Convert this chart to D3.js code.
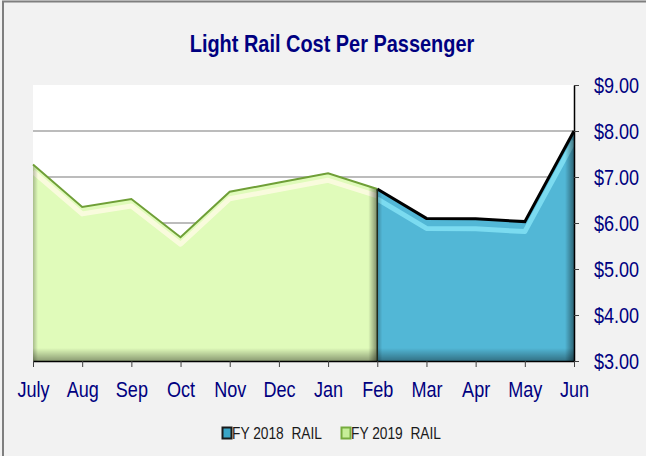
<!DOCTYPE html>
<html>
<head>
<meta charset="utf-8">
<script src="https://cdn.jsdelivr.net/npm/d3@7"></script>
<style>
    body { margin: 0; background: #f2f2f2; }
    svg text { font-family: 'Liberation Sans', Arial, sans-serif; }
</style>
</head>
<body>
<div id="chart"></div>
<script>
const months = ['July', 'Aug', 'Sep', 'Oct', 'Nov', 'Dec', 'Jan', 'Feb', 'Mar', 'Apr', 'May', 'Jun'];
const fy2019Rail = [7.27, 6.35, 6.52, 5.69, 6.68, 6.88, 7.08, 6.74, null, null, null, null];
const fy2018Rail = [null, null, null, null, null, null, null, 6.74, 6.10, 6.09, 6.03, 8.00];
const yTicks = [3, 4, 5, 6, 7, 8, 9];
const gridValues = [4, 5, 6, 7, 8];
const seriesNames = ['FY 2018  RAIL', 'FY 2019  RAIL'];

const width = 646, height = 456;
const plot = { left: 33, right: 574, top: 85, bottom: 361 };

const svg = d3.select('#chart').append('svg')
    .attr('width', width)
    .attr('height', height);

const defs = svg.append('defs');

const x = d3.scalePoint().domain(months).range([plot.left, plot.right]);
const y = d3.scaleLinear().domain([3, 9]).range([plot.bottom, plot.top]);

// the original uses a narrow font, squeeze the text horizontally
function narrow(selection, factor) {
    selection.each(function () {
        const len = this.getComputedTextLength();
        d3.select(this)
            .attr('textLength', len * factor)
            .attr('lengthAdjust', 'spacingAndGlyphs');
    });
}

// outer frame (only top and left edge visible in the picture)
svg.append('rect')
    .attr('x', 3).attr('y', 1.5)
    .attr('width', width + 10).attr('height', height + 10)
    .attr('fill', '#f2f2f2')
    .attr('stroke', '#7f7f7f')
    .attr('stroke-width', 2);

// title
svg.append('text')
    .attr('x', 332)
    .attr('y', 52)
    .attr('text-anchor', 'middle')
    .attr('font-size', 24)
    .attr('font-weight', 'bold')
    .attr('fill', '#000080')
    .text('Light Rail Cost Per Passenger')
    .call(narrow, 0.83);

// plot background
svg.append('rect')
    .attr('x', plot.left).attr('y', plot.top)
    .attr('width', plot.right - plot.left).attr('height', plot.bottom - plot.top)
    .attr('fill', '#ffffff');

// gridlines
svg.append('g')
    .selectAll('line')
    .data(gridValues)
    .join('line')
    .attr('x1', plot.left).attr('x2', plot.right)
    .attr('y1', d => y(d)).attr('y2', d => y(d))
    .attr('stroke', '#a6a6a6')
    .attr('stroke-width', 1.5);

function makeGradient(id, x1, y1, x2, y2, stops) {
    const g = defs.append('linearGradient')
        .attr('id', id)
        .attr('x1', x1).attr('y1', y1).attr('x2', x2).attr('y2', y2);
    stops.forEach(s => g.append('stop')
        .attr('offset', s[0])
        .attr('stop-color', s[1])
        .attr('stop-opacity', s[2]));
}

makeGradient('shadeDown', 0, 0, 0, 1, [[0, '#000', 0], [1, '#000', 0.38]]);
makeGradient('shadeRight', 0, 0, 1, 0, [[0, '#000', 0], [1, '#000', 0.45]]);
makeGradient('shadeLeft', 0, 0, 1, 0, [[0, '#000', 0.25], [1, '#000', 0]]);

// Draw a bevelled area for one series
function createArea(values, opts) {
    const pts = months.map((m, i) => ({ m: m, v: values[i] })).filter(d => d.v !== null);
    const x0 = x(pts[0].m), x1 = x(pts[pts.length - 1].m);

    const area = d3.area()
        .x(d => x(d.m))
        .y0(plot.bottom)
        .y1(d => y(d.v));
    const line = d3.line()
        .x(d => x(d.m))
        .y(d => y(d.v));

    defs.append('clipPath').attr('id', opts.id + '-clip')
        .append('path').attr('d', area(pts));

    const g = svg.append('g');
    const inner = g.append('g').attr('clip-path', `url(#${opts.id}-clip)`);

    inner.append('path')
        .attr('d', area(pts))
        .attr('fill', opts.fill);

    // soft highlight under the top edge
    inner.append('path')
        .attr('d', line(pts))
        .attr('transform', `translate(0, ${opts.glowOffset})`)
        .attr('fill', 'none')
        .attr('stroke', opts.glow)
        .attr('stroke-width', opts.glowWidth)
        .attr('stroke-linejoin', 'round')
        .attr('opacity', 0.8);

    // shaded edges
    inner.append('rect')
        .attr('x', x0).attr('y', plot.bottom - 13)
        .attr('width', x1 - x0).attr('height', 13)
        .attr('fill', 'url(#shadeDown)');
    inner.append('rect')
        .attr('x', x1 - 9).attr('y', plot.top)
        .attr('width', 9).attr('height', plot.bottom - plot.top)
        .attr('fill', 'url(#shadeRight)');
    inner.append('rect')
        .attr('x', x0).attr('y', plot.top)
        .attr('width', 5).attr('height', plot.bottom - plot.top)
        .attr('fill', 'url(#shadeLeft)');

    // top edge
    g.append('path')
        .attr('d', line(pts))
        .attr('fill', 'none')
        .attr('stroke', opts.edge)
        .attr('stroke-width', opts.edgeWidth)
        .attr('stroke-linejoin', 'miter');

    if (opts.leftEdge) {
        g.append('line')
            .attr('x1', x0).attr('x2', x0)
            .attr('y1', y(pts[0].v)).attr('y2', plot.bottom)
            .attr('stroke', opts.leftEdge)
            .attr('stroke-width', 1.5);
    }
}

createArea(fy2019Rail, {
    id: 'fy2019',
    fill: '#e0fbba',
    glow: '#fffbe6',
    glowOffset: 7,
    glowWidth: 5,
    edge: '#6f9f37',
    edgeWidth: 2
});

createArea(fy2018Rail, {
    id: 'fy2018',
    fill: '#52b7d6',
    glow: '#86e4f6',
    glowOffset: 10,
    glowWidth: 5,
    edge: '#000000',
    edgeWidth: 3,
    leftEdge: '#1e2a1e'
});

// x axis
const xAxis = svg.append('g')
    .attr('transform', `translate(0, ${plot.bottom})`)
    .call(d3.axisBottom(x).tickSize(6).tickPadding(14).tickSizeOuter(0));
xAxis.select('.domain').attr('stroke', '#000').attr('stroke-width', 1.5);
xAxis.selectAll('.tick line').attr('stroke', '#404040');
xAxis.selectAll('text')
    .attr('font-size', 22)
    .attr('fill', '#000080')
    .call(narrow, 0.82);

// right axis
const yAxis = svg.append('g')
    .attr('transform', `translate(${plot.right}, 0)`)
    .call(d3.axisRight(y).tickValues(yTicks).tickFormat(d3.format('$.2f')).tickSize(5).tickPadding(15).tickSizeOuter(0));
yAxis.select('.domain').attr('stroke', '#000').attr('stroke-width', 1.5);
yAxis.selectAll('.tick line').attr('stroke', '#404040');
yAxis.selectAll('text')
    .attr('font-size', 22)
    .attr('fill', '#000080')
    .call(narrow, 0.82);

// legend
const legendItems = [
    { name: seriesNames[0], x: 222, fill: '#3aa5c6', stroke: '#1a1a1a' },
    { name: seriesNames[1], x: 341, fill: '#c6ee98', stroke: '#76ac3e' }
];
const legend = svg.append('g');
legendItems.forEach(item => {
    legend.append('rect')
        .attr('x', item.x + 0.5).attr('y', 427.5)
        .attr('width', 9).attr('height', 11)
        .attr('fill', item.fill)
        .attr('stroke', item.stroke)
        .attr('stroke-width', 2);
    legend.append('text')
        .attr('x', item.x + 10)
        .attr('y', 439)
        .attr('font-size', 16)
        .attr('fill', '#1a1a1a')
        .style('white-space', 'pre')
        .text(item.name)
        .call(narrow, 0.86);
});
</script>
</body>
</html>
